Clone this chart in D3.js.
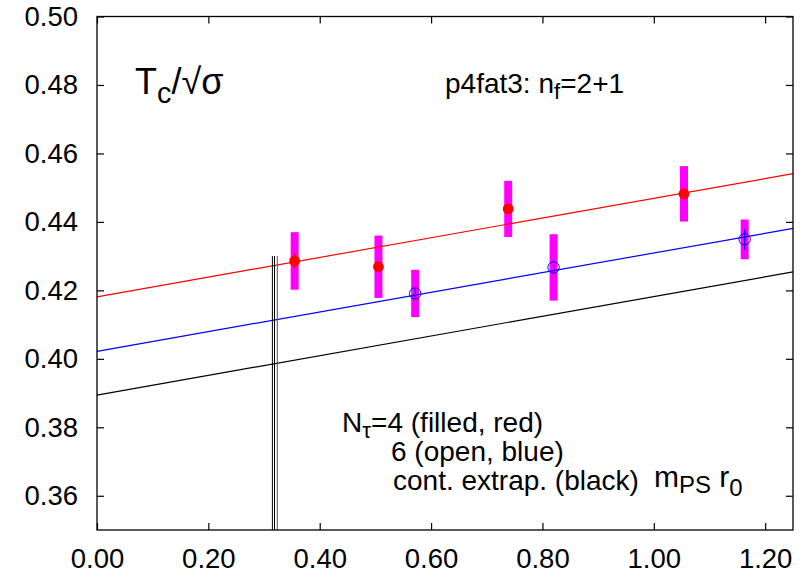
<!DOCTYPE html>
<html>
<head>
<meta charset="utf-8">
<script src="https://cdn.jsdelivr.net/npm/d3@7"></script>
<style>
  html, body { margin: 0; padding: 0; background: #fff; }
  svg { display: block; }
  text { font-family: "Liberation Sans", Arial, Helvetica, sans-serif; fill: #000; }
</style>
</head>
<body>
<svg id="chart" width="800" height="575"></svg>
<script>
// ---------------- data ----------------
const xTicks = [0.00, 0.20, 0.40, 0.60, 0.80, 1.00, 1.20];
const yTicks = [0.36, 0.38, 0.40, 0.42, 0.44, 0.46, 0.48, 0.50];

// N_tau = 4 (filled, red)
const nt4X = [0.355, 0.5055, 0.7385, 1.0542];
const nt4Y = [0.4286, 0.4269, 0.4438, 0.4482];
const nt4Err = [0.0084, 0.0091, 0.0082, 0.0081];      // magenta band
const nt4ErrStat = [0.0023, 0.0015, 0.0015, 0.0017];  // thin bar

// N_tau = 6 (open, blue)
const nt6X = [0.5714, 0.820, 1.1632];
const nt6Y = [0.4191, 0.4267, 0.4349];
const nt6Err = [0.0069, 0.0097, 0.0058];
const nt6ErrStat = [0.0015, 0.0018, 0.0030];

// linear fits (value at x = 0 and x = 1.25)
const fitX = [0.0, 1.25];
const fitRed = [0.4181, 0.4541];
const fitBlue = [0.4022, 0.4381];
const fitBlack = [0.3894, 0.4254];

// vertical marker lines (physical point)
const vLineX = [0.315, 0.3188, 0.3238];
const vLineTop = 0.430;

// ---------------- layout ----------------
const svg = d3.select("#chart");
const L = 97, R = 793, T = 16.5, B = 530;
const x = d3.scaleLinear().domain([0, 1.25]).range([L, R]);
const y = d3.scaleLinear().domain([0.35, 0.50]).range([B, T]);
const fmt = d3.format(".2f");
const tickLen = 7;
const FONT = '"Liberation Sans", Arial, Helvetica, sans-serif';

// ---------------- error bands ----------------
const g = svg.append("g");
function bands(xs, ys, es) {
  g.selectAll(null).data(xs).enter().append("line")
    .attr("x1", (d) => x(d)).attr("x2", (d) => x(d))
    .attr("y1", (d, i) => y(ys[i] - es[i]))
    .attr("y2", (d, i) => y(ys[i] + es[i]))
    .attr("stroke", "#ff00ff").attr("stroke-width", 8);
}
bands(nt4X, nt4Y, nt4Err);
bands(nt6X, nt6Y, nt6Err);

// ---------------- fit lines ----------------
function fit(vals, color) {
  g.append("line")
    .attr("x1", x(fitX[0])).attr("y1", y(vals[0]))
    .attr("x2", x(fitX[1])).attr("y2", y(vals[1]))
    .attr("stroke", color).attr("stroke-width", 1.2);
}
fit(fitRed, "#ff0000");
fit(fitBlue, "#0000ff");
fit(fitBlack, "#000000");

// ---------------- vertical lines ----------------
g.selectAll(null).data(vLineX).enter().append("line")
  .attr("x1", (d) => x(d)).attr("x2", (d) => x(d))
  .attr("y1", y(vLineTop)).attr("y2", B)
  .attr("stroke", (d, i) => i === 2 ? "#555" : "#000")
  .attr("stroke-width", 1);

// ---------------- points ----------------
function statBars(xs, ys, es, color) {
  g.selectAll(null).data(xs).enter().append("line")
    .attr("x1", (d) => x(d)).attr("x2", (d) => x(d))
    .attr("y1", (d, i) => y(ys[i] - es[i]))
    .attr("y2", (d, i) => y(ys[i] + es[i]))
    .attr("stroke", color).attr("stroke-width", 1.2);
}
statBars(nt4X, nt4Y, nt4ErrStat, "#ff0000");
g.selectAll(null).data(nt4X).enter().append("circle")
  .attr("cx", (d) => x(d)).attr("cy", (d, i) => y(nt4Y[i]))
  .attr("r", 5.4).attr("fill", "#ff0000");

statBars(nt6X, nt6Y, nt6ErrStat, "#0000ff");
g.selectAll(null).data(nt6X).enter().append("circle")
  .attr("cx", (d) => x(d)).attr("cy", (d, i) => y(nt6Y[i]))
  .attr("r", 5.7).attr("fill", "none")
  .attr("stroke", "#0000ff").attr("stroke-width", 1);

// ---------------- frame & ticks ----------------
svg.append("rect")
  .attr("x", L).attr("y", T).attr("width", R - L).attr("height", B - T)
  .attr("fill", "none").attr("stroke", "#000").attr("stroke-width", 1.3);

const bottomAxis = d3.axisBottom(x).tickValues(xTicks).tickSize(-tickLen).tickFormat(fmt).tickPadding(18);
const topAxis = d3.axisTop(x).tickValues(xTicks).tickSize(-tickLen).tickFormat("");
const leftAxis = d3.axisLeft(y).tickValues(yTicks).tickSize(-tickLen).tickFormat(fmt).tickPadding(19);
const rightAxis = d3.axisRight(y).tickValues(yTicks).tickSize(-tickLen).tickFormat("");

function styleAxis(sel) {
  sel.select(".domain").remove();
  sel.selectAll(".tick line").attr("stroke", "#000").attr("stroke-width", 1.2);
  sel.selectAll(".tick text").attr("font-size", 27.5)
    .attr("font-family", FONT).attr("fill", "#000");
}
svg.append("g").attr("transform", `translate(0,${B})`).call(bottomAxis).call(styleAxis);
svg.append("g").attr("transform", `translate(0,${T})`).call(topAxis).call(styleAxis);
svg.append("g").attr("transform", `translate(${L},0)`).call(leftAxis).call(styleAxis);
svg.append("g").attr("transform", `translate(${R},0)`).call(rightAxis).call(styleAxis);

// ---------------- labels ----------------
function rich(xp, yp, size, parts, subScale) {
  const sc = subScale || 0.8;
  const t = svg.append("text").attr("x", xp).attr("y", yp).attr("font-size", size);
  parts.forEach((p) => {
    const s = t.append("tspan").text(p.t);
    if (p.sub) s.attr("font-size", size * sc).attr("dy", p.sub);
    if (p.back) s.attr("dy", p.back);
  });
  return t;
}

rich(135, 94, 36, [
  { t: "T" }, { t: "c", sub: 9 }, { t: "/√σ", back: -9 }
]);
rich(445, 93, 28, [
  { t: "p4fat3: n" }, { t: "f", sub: 6 }, { t: "=2+1", back: -6 }
]);
rich(342, 432, 28, [
  { t: "N" }, { t: "τ", sub: 6 }, { t: "=4 (filled, red)", back: -6 }
]);
rich(391, 461, 28, [{ t: "6 (open, blue)" }]);
rich(393, 490, 28, [{ t: "cont. extrap. (black)" }]);
rich(654, 487, 30, [
  { t: "m" }, { t: "PS", sub: 6 }, { t: " r", back: -6 }, { t: "0", sub: 9 }
], 0.8);
</script>
</body>
</html>
